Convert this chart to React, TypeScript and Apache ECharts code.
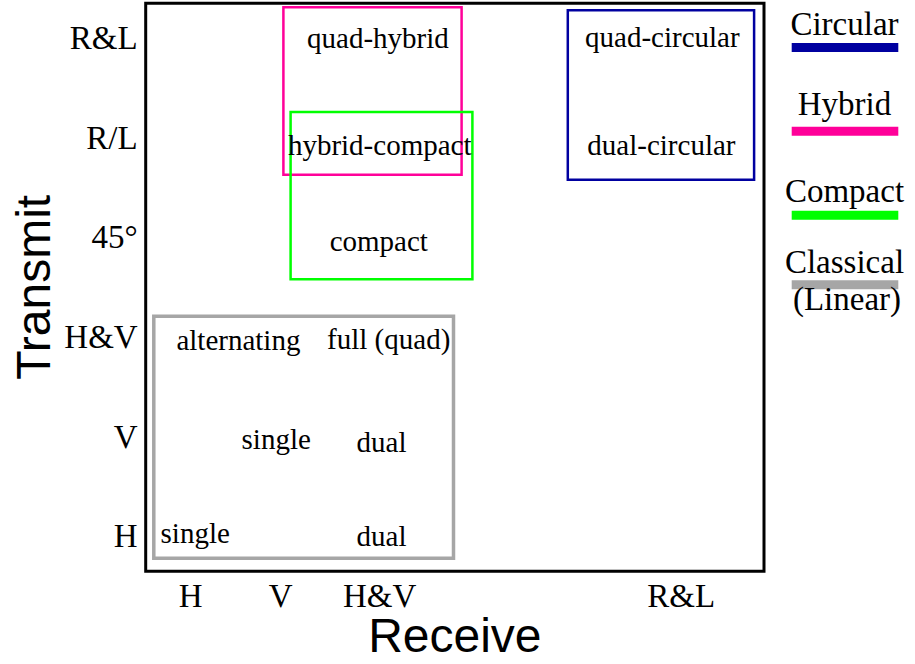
import React, { useEffect, useRef } from "react";
import * as echarts from "echarts";

// Axis ticks (polarisation of receive / transmit)
const xTickLabels = ["H", "V", "H&V", "R&L"];
const xTickValues = [1, 2, 3.1, 6.45];
const yTickLabels = ["H", "V", "H&V", "45°", "R/L", "R&L"];
const yTickValues = [0, 1, 2, 3, 4, 5];

// Mode-family boxes
const boxNames = ["Classical", "Hybrid", "Compact", "Circular"];
const boxColors = ["#A6A6A6", "#FF0099", "#00FF00", "#0000A0"];
const boxX0 = [0.59, 2.03, 2.11, 5.19];
const boxX1 = [3.92, 4.01, 4.13, 7.26];
const boxY0 = [-0.22, 3.63, 2.58, 3.58];
const boxY1 = [2.21, 5.31, 4.26, 5.28];

// Mode labels
const modeNames = [
  "quad-hybrid",
  "hybrid-compact",
  "compact",
  "quad-circular",
  "dual-circular",
  "alternating",
  "full (quad)",
  "single",
  "dual",
  "single",
  "dual",
];
const modeX = [3.08, 3.1, 3.09, 6.24, 6.23, 1.53, 3.2, 1.95, 3.12, 1.05, 3.12];
const modeY = [5.0, 3.93, 2.96, 5.01, 3.93, 1.97, 1.98, 0.98, 0.95, 0.03, 0.0];

// Legend
const legendNames = ["Circular", "Hybrid", "Compact", "Classical"];
const legendColors = ["#0000A0", "#FF0099", "#00FF00", "#A6A6A6"];
const legendSub = ["", "", "", "(Linear)"];

const SERIF = '"Liberation Serif", "Times New Roman", serif';
const SANS = '"Liberation Sans", Arial, sans-serif';

function tickLabel(values: number[], labels: string[], v: number) {
  for (let i = 0; i < values.length; i++) {
    if (Math.abs(values[i] - v) < 1e-6) return labels[i];
  }
  return "";
}

export default function App() {
  const ref = useRef<HTMLDivElement>(null);
  useEffect(() => {
    document.body.style.margin = "0";
    if (!ref.current) return;
    const chart = echarts.init(ref.current, null, { renderer: "svg" });

    const legendTextY = [23.9, 103.9, 190.6, 262.2];
    const legendLineY = [47.5, 131.3, 215.3, 284.7];
    const graphics: any[] = [];
    legendNames.forEach((n, i) => {
      graphics.push({
        type: "text",
        style: {
          text: n,
          x: 844.5,
          y: legendTextY[i],
          fill: "#000",
          fontSize: 33,
          fontFamily: SERIF,
          align: "center",
          verticalAlign: "middle",
        },
      });
      graphics.push({
        type: "rect",
        shape: { x: 791.7, y: legendLineY[i] - 4.5, width: 106.6, height: 9 },
        style: { fill: legendColors[i] },
      });
      if (legendSub[i]) {
        graphics.push({
          type: "text",
          style: {
            text: legendSub[i],
            x: 847,
            y: 298.9,
            fill: "#000",
            fontSize: 33,
            fontFamily: SERIF,
            align: "center",
            verticalAlign: "middle",
          },
        });
      }
    });

    const option: any = {
      animation: false,
      backgroundColor: "#fff",
      grid: {
        left: 145.7,
        right: 151,
        top: 3.3,
        bottom: 92.7,
        containLabel: false,
        outerBoundsMode: "none",
        show: true,
        borderColor: "#000",
        borderWidth: 3,
        backgroundColor: "transparent",
      },
      xAxis: {
        type: "value",
        min: 0.5,
        max: 7.37,
        name: "Receive",
        nameLocation: "middle",
        nameGap: 40,
        nameMoveOverlap: false,
        nameTextStyle: { fontSize: 48, fontFamily: SANS, color: "#000" },
        axisLine: { show: false },
        axisTick: { show: false },
        splitLine: { show: false },
        axisLabel: {
          customValues: xTickValues,
          formatter: (v: number) => tickLabel(xTickValues, xTickLabels, v),
          fontSize: 33,
          fontFamily: SERIF,
          color: "#000",
          margin: 8,
        },
      },
      yAxis: {
        type: "value",
        min: -0.35,
        max: 5.35,
        name: "Transmit",
        nameLocation: "middle",
        nameGap: 88,
        nameMoveOverlap: false,
        nameTextStyle: { fontSize: 48, fontFamily: SANS, color: "#000" },
        axisLine: { show: false },
        axisTick: { show: false },
        splitLine: { show: false },
        axisLabel: {
          customValues: yTickValues,
          formatter: (v: number) => tickLabel(yTickValues, yTickLabels, v),
          fontSize: 33,
          fontFamily: SERIF,
          color: "#000",
          margin: 8,
        },
      },
      graphic: graphics,
      series: [
        {
          type: "custom",
          name: "boxes",
          encode: { x: [0, 2], y: [1, 3] },
          data: boxNames.map((n, i) => ({
            name: n,
            value: [boxX0[i], boxY0[i], boxX1[i], boxY1[i]],
          })),
          renderItem: (params: any, api: any) => {
            const p0 = api.coord([api.value(0), api.value(1)]);
            const p1 = api.coord([api.value(2), api.value(3)]);
            const i = params.dataIndex;
            return {
              type: "rect",
              shape: {
                x: Math.min(p0[0], p1[0]),
                y: Math.min(p0[1], p1[1]),
                width: Math.abs(p1[0] - p0[0]),
                height: Math.abs(p1[1] - p0[1]),
              },
              style: {
                fill: "none",
                stroke: boxColors[i],
                lineWidth: i === 0 ? 3.5 : 2.5,
              },
            };
          },
          z: 2,
        },
        {
          type: "scatter",
          name: "modes",
          symbolSize: 1,
          itemStyle: { color: "rgba(0,0,0,0)", opacity: 1 },
          data: modeNames.map((n, i) => ({ name: n, value: [modeX[i], modeY[i]] })),
          label: {
            show: true,
            position: "inside",
            formatter: "{b}",
            fontSize: 29,
            fontFamily: SERIF,
            color: "#000",
          },
          z: 3,
        },
      ],
    };
    chart.setOption(option);
    return () => chart.dispose();
  }, []);
  return <div ref={ref} style={{ width: 915, height: 664 }} />;
}
